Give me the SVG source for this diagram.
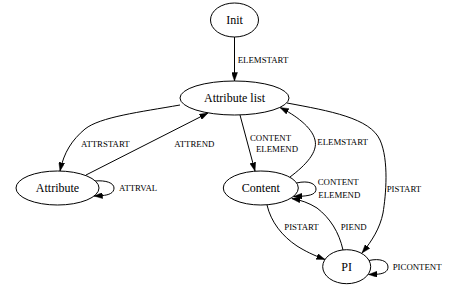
<svg xmlns="http://www.w3.org/2000/svg" width="475" height="288" viewBox="0 0 475 288">
<style>
.node ellipse{fill:#fff;stroke:#000;stroke-width:1}
.node text{font-family:"Liberation Serif","Times New Roman",serif;font-size:12px;text-anchor:middle;fill:#000}
.edge path{fill:none;stroke:#000;stroke-width:1;marker-end:url(#arr)}
.lbl{font-family:"Liberation Serif","Times New Roman",serif;font-size:8.8px;fill:#000}
</style>
<defs>
<marker id="arr" viewBox="0 0 10 7" refX="10" refY="3.5" markerUnits="userSpaceOnUse" markerWidth="8.6" markerHeight="6" orient="auto">
<path d="M0,0 L10,3.5 L0,7 z" fill="#000" stroke="#000" stroke-width="0.5"/>
</marker>
</defs>
<rect width="475" height="288" fill="#fff"/>
<g id="edges" class="edge">
<path d="M234.5,37 L234.5,81"/>
<path d="M180,105 C140,112 100,117 85,129 C72,140 64,152 60,171"/>
<path d="M86,175 L208,113"/>
<path d="M240,115 L255,171"/>
<path d="M290,177 C306,165 318,152 315,140 C312,127 295,115 280,107.5"/>
<path d="M287,103 C330,111 370,118 380,140 C389,160 386,195 383,213 C380,228 372,241 362,253"/>
<path d="M296.5,183 C309,180 316,184 316,189 C316,194 311,195.5 302,196.2 L293.5,196.5"/>
<path d="M95,181 C106,180 114,183 114,188 C114,193 109,195 102,195.6 L94,196"/>
<path d="M369,260.5 C380,258 388,261 388,267 C388,272 383,274 376,274.3 L368.5,274.5"/>
<path d="M267,205 C271,222 282,236 297,246 C305,251 313,255 325,259.5"/>
<path d="M343,250 C339,232 330,218 317,208 C309,203 301,200 291.7,198.5"/>
<text class="lbl" x="237.7" y="62.5">ELEMSTART</text>
<text class="lbl" x="81" y="146.5">ATTRSTART</text>
<text class="lbl" x="174.3" y="146.5">ATTREND</text>
<text class="lbl" x="250" y="141.3">CONTENT</text>
<text class="lbl" x="256" y="152">ELEMEND</text>
<text class="lbl" x="317.3" y="144.7">ELEMSTART</text>
<text class="lbl" x="317.7" y="185">CONTENT</text>
<text class="lbl" x="318.3" y="197.5">ELEMEND</text>
<text class="lbl" x="386.7" y="191.5">PISTART</text>
<text class="lbl" x="119" y="191.3">ATTRVAL</text>
<text class="lbl" x="284.3" y="229.7">PISTART</text>
<text class="lbl" x="340.7" y="229.7">PIEND</text>
<text class="lbl" x="392.7" y="269.7">PICONTENT</text>
</g>
<g id="node-init" class="node"><ellipse cx="234.5" cy="20" rx="24" ry="17"/><text x="234.5" y="24">Init</text></g>
<g id="node-attrlist" class="node"><ellipse cx="234.5" cy="98" rx="54.5" ry="17"/><text x="234.5" y="102">Attribute list</text></g>
<g id="node-attribute" class="node"><ellipse cx="57.5" cy="188" rx="41.5" ry="17"/><text x="57.5" y="192">Attribute</text></g>
<g id="node-content" class="node"><ellipse cx="260.8" cy="188" rx="37.5" ry="17"/><text x="260.8" y="192">Content</text></g>
<g id="node-pi" class="node"><ellipse cx="346.7" cy="266.7" rx="24" ry="17"/><text x="346.7" y="270.7">PI</text></g>
</svg>
